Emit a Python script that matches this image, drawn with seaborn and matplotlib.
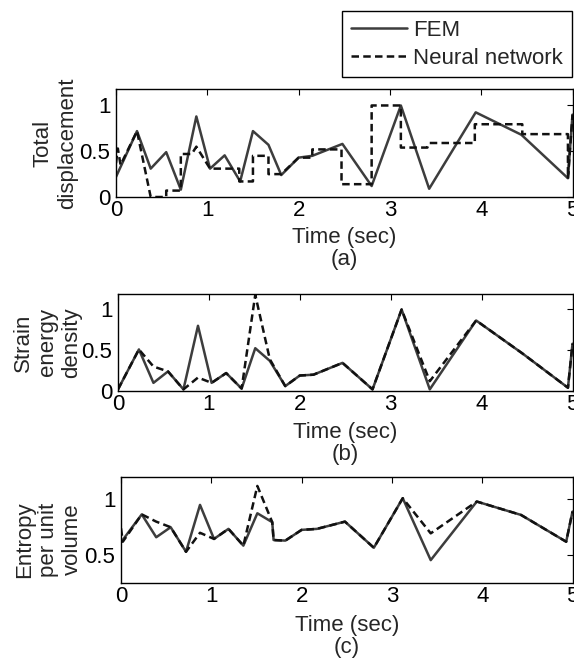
import matplotlib
matplotlib.use("Agg")
import matplotlib.pyplot as plt
import seaborn as sns
import pandas as pd

# ---------------- data ----------------
# Panel (a): total displacement
t_a = [0.00, 0.23, 0.38, 0.55, 0.71, 0.88, 1.03, 1.19, 1.36, 1.50, 1.67, 1.81,
       2.00, 2.15, 2.48, 2.80, 3.12, 3.43, 3.94, 4.44, 4.95, 5.00]
fem_a = [0.22, 0.72, 0.31, 0.49, 0.08, 0.88, 0.31, 0.455, 0.17, 0.72, 0.57, 0.24,
         0.43, 0.45, 0.58, 0.12, 1.00, 0.09, 0.925, 0.68, 0.205, 0.90]
t_a_nn = [0.00, 0.02, 0.05, 0.23, 0.38, 0.55, 0.55, 0.71, 0.71, 0.83, 0.88, 1.03,
          1.35, 1.35, 1.50, 1.50, 1.67, 1.67, 1.81, 2.00, 2.15, 2.15, 2.47, 2.47,
          2.80, 2.80, 3.12, 3.12, 3.41, 3.43, 3.93, 3.93, 4.45, 4.45, 4.95, 4.95, 5.00]
nn_a = [0.37, 0.53, 0.35, 0.72, 0.00, 0.00, 0.07, 0.07, 0.47, 0.47, 0.55, 0.31,
        0.31, 0.17, 0.17, 0.45, 0.45, 0.25, 0.25, 0.43, 0.43, 0.52, 0.52, 0.14,
        0.14, 1.00, 1.00, 0.54, 0.54, 0.59, 0.59, 0.795, 0.795, 0.687, 0.687, 0.20, 0.90]

# Panel (b): strain energy density
t_b = [0.00, 0.23, 0.39, 0.55, 0.72, 0.88, 1.03, 1.19, 1.36, 1.51, 1.67, 1.84,
       2.00, 2.15, 2.47, 2.80, 3.12, 3.43, 3.94, 4.45, 4.95, 5.00]
fem_b = [0.02, 0.51, 0.10, 0.24, 0.02, 0.80, 0.10, 0.22, 0.03, 0.525, 0.37, 0.06,
         0.19, 0.20, 0.345, 0.02, 1.00, 0.02, 0.865, 0.46, 0.04, 0.58]
nn_b = [0.02, 0.51, 0.30, 0.24, 0.02, 0.165, 0.10, 0.22, 0.03, 1.18, 0.39, 0.06,
        0.19, 0.20, 0.345, 0.02, 1.00, 0.12, 0.865, 0.46, 0.04, 0.58]

# Panel (c): entropy per unit volume
t_c = [0.00, 0.23, 0.39, 0.55, 0.72, 0.875, 1.03, 1.19, 1.355, 1.51, 1.675, 1.69,
       1.82, 2.00, 2.17, 2.48, 2.80, 3.12, 3.43, 3.94, 4.43, 4.93, 5.00]
fem_c = [0.615, 0.865, 0.66, 0.75, 0.53, 0.95, 0.645, 0.735, 0.585, 0.875, 0.795, 0.635,
         0.63, 0.726, 0.735, 0.80, 0.566, 1.01, 0.455, 0.98, 0.86, 0.62, 0.89]
t_c_nn = [0.00, 0.02, 0.23, 0.39, 0.55, 0.72, 0.875, 1.03, 1.19, 1.355, 1.51, 1.675, 1.69,
          1.82, 2.00, 2.17, 2.48, 2.80, 3.12, 3.43, 3.94, 4.43, 4.93, 5.00]
nn_c = [0.74, 0.62, 0.865, 0.80, 0.75, 0.53, 0.70, 0.645, 0.735, 0.585, 1.12, 0.795, 0.635,
        0.63, 0.726, 0.735, 0.80, 0.566, 1.01, 0.695, 0.98, 0.86, 0.62, 0.89]

series_names = ["FEM", "Neural network"]
y_labels = ["Total\ndisplacement", "Strain\nenergy\ndensity", "Entropy\nper unit\nvolume"]
panel_tags = ["(a)", "(b)", "(c)"]
x_ticks = [0, 1, 2, 3, 4, 5]
y_ticks = [[0, 0.5, 1], [0, 0.5, 1], [0.5, 1]]
y_tick_labels = [["0", "0.5", "1"], ["0", "0.5", "1"], ["0.5", "1"]]
y_limits = [(0, 1.18), (0, 1.19), (0.25, 1.2)]

# ---------------- style ----------------
sns.set_theme(style="white")
plt.rcParams["font.family"] = ["Liberation Sans", "DejaVu Sans"]
plt.rcParams["axes.edgecolor"] = "black"
plt.rcParams["axes.linewidth"] = 1.0

FS = 16
fem_color = "#3d3d3d"
nn_color = "#111111"
lw = 1.8
dash = (0, (3.0, 1.7))

W, H = 574, 664
fig = plt.figure(figsize=(W / 100, H / 100), dpi=100)

# axes rectangles in pixels: left, top, right, bottom
rects = [(116, 89, 572.5, 197), (118, 294, 572.5, 391), (121, 477, 572.5, 583)]
ylabel_x = [-0.084, -0.079, -0.084]
ylabel_y = [0.5, 0.5, 0.41]
xlabel_y = [-0.28, -0.32, -0.30]

panels = [
    (t_a, fem_a, t_a_nn, nn_a),
    (t_b, fem_b, t_b, nn_b),
    (t_c, fem_c, t_c_nn, nn_c),
]

axes = []
for i, (tf, yf, tn, yn) in enumerate(panels):
    l, t, r, b = rects[i]
    ax = fig.add_axes([l / W, 1 - b / H, (r - l) / W, (b - t) / H])
    df_f = pd.DataFrame({"t": tf, "v": yf})
    df_n = pd.DataFrame({"t": tn, "v": yn})
    sns.lineplot(data=df_f, x="t", y="v", ax=ax, color=fem_color, linewidth=lw,
                 estimator=None, sort=False, label=series_names[0])
    sns.lineplot(data=df_n, x="t", y="v", ax=ax, color=nn_color, linewidth=lw,
                 linestyle=dash, estimator=None, sort=False, label=series_names[1])
    if ax.get_legend() is not None:
        ax.get_legend().remove()
    ax.set_xlim(0, 5)
    ax.set_ylim(*y_limits[i])
    ax.set_xticks(x_ticks)
    ax.set_xticklabels([str(v) for v in x_ticks])
    ax.set_yticks(y_ticks[i])
    ax.set_yticklabels(y_tick_labels[i])
    ax.tick_params(direction="in", length=4, width=0.8, top=True, right=True,
                   labelsize=FS, colors="black", pad=2.5)
    ax.tick_params(axis="y", pad=4)
    for s in ax.spines.values():
        s.set_visible(True)
        s.set_color("black")
        s.set_linewidth(1.0)
    ax.set_ylabel(y_labels[i], fontsize=FS, linespacing=1.2, multialignment="center")
    ax.yaxis.set_label_coords(ylabel_x[i], ylabel_y[i])
    ax.set_xlabel("Time (sec)\n" + panel_tags[i], fontsize=FS, linespacing=1.05)
    ax.xaxis.set_label_coords(0.5, xlabel_y[i])
    axes.append(ax)

handles, labels = axes[0].get_legend_handles_labels()
leg = fig.legend(handles, labels, loc="upper right",
                 bbox_to_anchor=(572 / W, 1 - 11 / H), bbox_transform=fig.transFigure,
                 frameon=True, fancybox=False, framealpha=1, edgecolor="black",
                 borderpad=0.4, handlelength=2.5, handletextpad=0.3,
                 labelspacing=0.3, fontsize=FS, borderaxespad=0)
leg.get_frame().set_linewidth(1.0)

fig.savefig("out.png", dpi=100)
